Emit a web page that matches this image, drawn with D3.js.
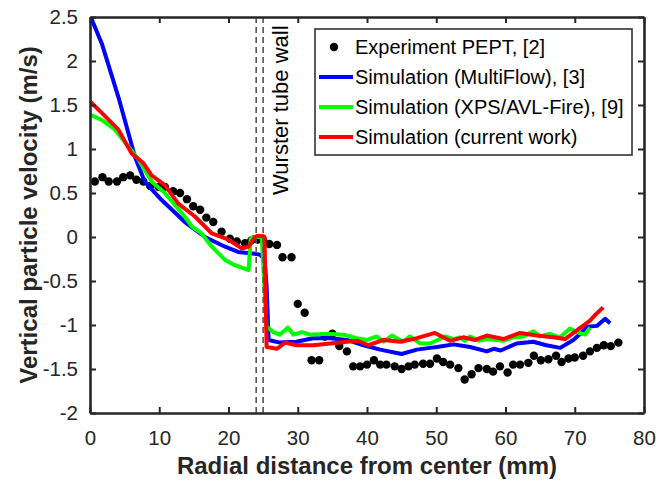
<!DOCTYPE html>
<html>
<head>
<meta charset="utf-8">
<script src="https://cdn.jsdelivr.net/npm/d3@7"></script>
<style>
	body { margin: 0; background: #fff; }
	text { font-family: "Liberation Sans", Arial, sans-serif; fill: #262626; }
</style>
</head>
<body>
<script>
// experiment PEPT, [2]
var expX = [0.7, 1.8, 2.7, 3.9, 4.8, 5.8, 6.7, 7.7, 8.7, 9.9, 10.8, 12.0, 13.0, 14.0, 14.9, 15.9, 16.8, 17.8, 19.0, 20.2,
	21.2, 22.4, 23.3, 24.2, 25.0, 25.9, 27.0, 27.8, 29.1, 30.0, 31.0, 32.0, 33.1, 33.9, 35.0, 36.0, 37.1, 38.0, 39.0, 40.0,
	41.0, 41.9, 42.8, 44.0, 45.0, 46.0, 46.9, 48.1, 49.1, 50.1, 51.0, 52.0, 53.2, 54.1, 55.1, 56.1, 57.3, 58.2, 59.2, 60.3,
	61.1, 62.1, 63.3, 64.1, 65.1, 66.2, 67.3, 68.1, 69.1, 70.0, 71.2, 72.2, 73.2, 74.2, 75.2, 76.3];
var expV = [0.63, 0.68, 0.63, 0.63, 0.68, 0.70, 0.65, 0.63, 0.58, 0.57, 0.57, 0.52, 0.50, 0.43, 0.35, 0.31, 0.22, 0.17, 0.06, -0.02,
	-0.05, -0.07, -0.04, -0.03, -0.04, -0.08, -0.09, -0.23, -0.23, -0.76, -0.86, -1.40, -1.40, -1.13, -1.10, -1.24, -1.30, -1.47, -1.47, -1.45,
	-1.40, -1.45, -1.45, -1.47, -1.50, -1.47, -1.45, -1.44, -1.44, -1.38, -1.42, -1.45, -1.49, -1.62, -1.56, -1.49, -1.50, -1.53, -1.47, -1.54,
	-1.45, -1.45, -1.43, -1.35, -1.40, -1.39, -1.35, -1.42, -1.38, -1.37, -1.35, -1.30, -1.26, -1.23, -1.24, -1.20];

// simulation (MultiFlow), [3]
var blueX = [0, 1.7, 4.1, 6.5, 7.9, 10.35, 13.7, 16.6, 19.5, 21.4, 23.8, 24.5, 25.2, 25.5, 25.8, 27.4, 29.8, 32.2, 34.7, 37.1,
	39.5, 41.9, 45, 47.2, 49.1, 50.1, 52.5, 54.9, 57.3, 58.3, 59.3, 61.6, 64, 65.9, 67.9, 69.8, 70.8, 71.7, 73.2, 74.4, 75.1];
var blueV = [2.52, 2.2, 1.59, 0.91, 0.63, 0.42, 0.17, 0.0, -0.11, -0.17, -0.19, -0.2, -0.25, -0.55, -1.17, -1.2, -1.19, -1.15, -1.15, -1.17,
	-1.23, -1.28, -1.33, -1.28, -1.26, -1.25, -1.22, -1.25, -1.30, -1.27, -1.29, -1.21, -1.19, -1.23, -1.26, -1.17, -1.1, -1.02, -1.01, -0.93, -0.98];

// simulation (XPS/AVL-Fire), [9]
var greenX = [0, 1.7, 3.6, 5.5, 7, 8.9, 10.8, 13.7, 14.7, 16.1, 17.6, 19.5, 20.9, 22.9, 23.2, 23.5, 24.8, 25.5, 26.5, 27.4,
	28.6, 29.4, 30.6, 31.8, 34.2, 36.6, 38.5, 40, 41.4, 42.4, 43.6, 45.2, 46.2, 47.65, 49.1, 51.3, 52.5, 53.4, 54.1, 54.9,
	56.1, 57.3, 59.7, 61.1, 62.6, 64, 65, 66.4, 67.9, 69.3, 70.3, 71.5, 72.2];
var greenV = [1.39, 1.33, 1.22, 1.03, 0.88, 0.63, 0.50, 0.23, 0.12, 0.04, -0.11, -0.26, -0.32, -0.375, -0.02, 0.0, 0.0, -1.02, -1.08, -1.11,
	-1.03, -1.11, -1.08, -1.11, -1.10, -1.11, -1.15, -1.17, -1.13, -1.19, -1.12, -1.19, -1.13, -1.21, -1.21, -1.13, -1.16, -1.14, -1.18, -1.13,
	-1.18, -1.16, -1.18, -1.14, -1.13, -1.07, -1.13, -1.10, -1.14, -1.04, -1.08, -1.11, -1.03];

// simulation (current work)
var redX = [0, 1.7, 4.1, 6, 7.7, 8.9, 10.8, 12.75, 15.2, 17.6, 20, 21.9, 22.9, 23.8, 24.1, 25.0, 25.2, 25.5, 27, 28.2,
	29.8, 32.2, 34.7, 37.1, 38.7, 40.2, 42.4, 44.8, 47.2, 49.8, 52, 53.9, 55.6, 57.3, 59.7, 62.1, 64.5, 66.9, 68.6, 70.3,
	72.2, 72.9, 74.1];
var redV = [1.54, 1.41, 1.22, 0.95, 0.84, 0.70, 0.59, 0.38, 0.23, 0.04, -0.03, -0.13, -0.11, 0.0, 0.01, 0.01, 0.0, -1.25, -1.27, -1.2,
	-1.23, -1.23, -1.21, -1.19, -1.18, -1.23, -1.17, -1.19, -1.15, -1.09, -1.18, -1.14, -1.17, -1.12, -1.16, -1.09, -1.12, -1.14, -1.16, -1.06,
	-0.95, -0.89, -0.80];

var wallX = [24, 25];
var xTicks = [0, 10, 20, 30, 40, 50, 60, 70, 80];
var yTicks = [-2, -1.5, -1, -0.5, 0, 0.5, 1, 1.5, 2, 2.5];
var legendNames = ["Experiment PEPT, [2]", "Simulation (MultiFlow), [3]", "Simulation (XPS/AVL-Fire), [9]", "Simulation (current work)"];
var legendColors = ["#000000", "#0000ff", "#00ff00", "#ff0000"];

var WIDTH = 672;
var HEIGHT = 481;
var LEFT = 90, TOP = 17, RIGHT = 644, BOTTOM = 413;
var AXIS = "#262626";

var svg = d3.select("body")
	.append("svg")
	.attr("width", WIDTH)
	.attr("height", HEIGHT);

var x = d3.scaleLinear().domain([0, 80]).range([LEFT, RIGHT]);
var y = d3.scaleLinear().domain([-2, 2.5]).range([BOTTOM, TOP]);

svg.append("clipPath").attr("id", "clip")
	.append("rect")
	.attr("x", LEFT).attr("y", TOP)
	.attr("width", RIGHT - LEFT).attr("height", BOTTOM - TOP);

var plot = svg.append("g").attr("clip-path", "url(#clip)");

var zip = function(xs, vs) {
	return xs.map(function(d, i) { return [d, vs[i]]; });
};

// dots first, lines on top
plot.selectAll("circle.exp")
	.data(zip(expX, expV))
	.enter()
	.append("circle")
	.attr("class", "exp")
	.attr("cx", function(d) { return x(d[0]); })
	.attr("cy", function(d) { return y(d[1]); })
	.attr("r", 4.2)
	.attr("fill", "#000");

var line = d3.line()
	.x(function(d) { return x(d[0]); })
	.y(function(d) { return y(d[1]); });

var series = [[blueX, blueV, "#0000ff"], [greenX, greenV, "#00ff00"], [redX, redV, "#ff0000"]];
series.forEach(function(s) {
	plot.append("path")
		.datum(zip(s[0], s[1]))
		.attr("d", line)
		.attr("fill", "none")
		.attr("stroke", s[2])
		.attr("stroke-width", 4)
		.attr("stroke-linejoin", "round");
});

// wurster tube wall
plot.selectAll("line.wall")
	.data(wallX)
	.enter()
	.append("line")
	.attr("x1", function(d) { return x(d); })
	.attr("x2", function(d) { return x(d); })
	.attr("y1", TOP)
	.attr("y2", BOTTOM)
	.attr("stroke", "#555")
	.attr("stroke-width", 1.6)
	.attr("stroke-dasharray", "6,4");

svg.append("text")
	.attr("transform", "translate(288,195) rotate(-90)")
	.attr("font-size", 22)
	.style("fill", "#000")
	.text("Wurster tube wall");

// axes, boxed with ticks inside
var fmt = function(d) { return String(d); };
var bottomAxis = d3.axisBottom(x).tickValues(xTicks).tickSizeInner(-6).tickSizeOuter(0).tickPadding(17).tickFormat(fmt);
var leftAxis = d3.axisLeft(y).tickValues(yTicks).tickSizeInner(-6).tickSizeOuter(0).tickPadding(12).tickFormat(fmt);
var topAxis = d3.axisTop(x).tickValues(xTicks).tickSizeInner(-6).tickSizeOuter(0).tickFormat("");
var rightAxis = d3.axisRight(y).tickValues(yTicks).tickSizeInner(-6).tickSizeOuter(0).tickFormat("");

var gx = svg.append("g").attr("transform", "translate(0," + BOTTOM + ")").call(bottomAxis);
var gy = svg.append("g").attr("transform", "translate(" + LEFT + ",0)").call(leftAxis);
var gt = svg.append("g").attr("transform", "translate(0," + TOP + ")").call(topAxis);
var gr = svg.append("g").attr("transform", "translate(" + RIGHT + ",0)").call(rightAxis);

[gx, gy, gt, gr].forEach(function(g) {
	g.select(".domain").attr("stroke", AXIS).attr("stroke-width", 2.6);
	g.selectAll(".tick line").attr("stroke", AXIS).attr("stroke-width", 2);
	g.selectAll(".tick text").attr("font-size", 20.5).attr("font-family", "Liberation Sans, Arial, sans-serif").style("fill", AXIS);
});

svg.append("text")
	.attr("x", (LEFT + RIGHT) / 2)
	.attr("y", 474)
	.attr("text-anchor", "middle")
	.attr("font-size", 24)
	.attr("font-weight", "bold")
	.text("Radial distance from center (mm)");

svg.append("text")
	.attr("transform", "translate(37," + ((TOP + BOTTOM) / 2) + ") rotate(-90)")
	.attr("text-anchor", "middle")
	.attr("font-size", 24)
	.attr("font-weight", "bold")
	.text("Vertical particle velocity (m/s)");

// legend
var legend = svg.append("g");
legend.append("rect")
	.attr("x", 315)
	.attr("y", 29)
	.attr("width", 317)
	.attr("height", 126)
	.attr("fill", "#fff")
	.attr("stroke", "#262626")
	.attr("stroke-width", 1.5);

var rows = legend.selectAll("g.row")
	.data(legendNames)
	.enter()
	.append("g")
	.attr("transform", function(d, i) { return "translate(0," + (47 + i * 30) + ")"; });

rows.each(function(d, i) {
	var g = d3.select(this);
	if (i == 0) {
		g.append("circle").attr("cx", 334).attr("cy", 0).attr("r", 4.2).attr("fill", "#000");
	} else {
		g.append("line").attr("x1", 319).attr("x2", 353).attr("y1", 0).attr("y2", 0)
			.attr("stroke", legendColors[i]).attr("stroke-width", 4);
	}
	g.append("text")
		.attr("x", 355)
		.attr("y", 7)
		.attr("font-size", 20)
		.style("fill", "#000")
		.text(d);
});
</script>
</body>
</html>
